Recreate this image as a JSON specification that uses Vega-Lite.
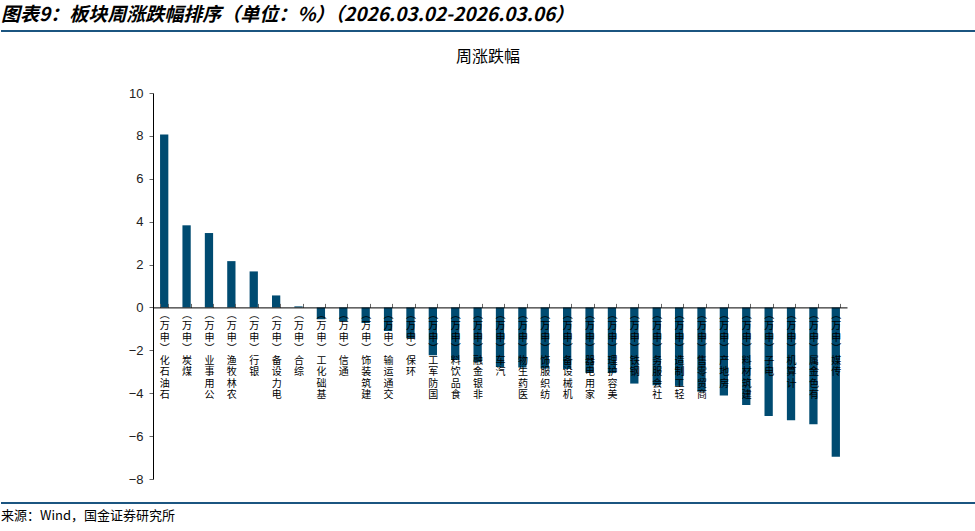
{
  "$schema": "https://vega.github.io/schema/vega-lite/v6.json",
  "padding": {"top": 6, "left": 0, "right": 0, "bottom": 0},
  "background": "white",
  "spacing": 16,
  "config": {"view": {"stroke": null}},
  "vconcat": [
    {
      "spacing": 17,
      "vconcat": [
        {
          "title": {"text": "图表9：板块周涨跌幅排序（单位：%）（2026.03.02-2026.03.06）", "anchor": "start", "frame": "group", "fontSize": 19, "fontWeight": "bold", "fontStyle": "italic", "font": "Noto Sans CJK SC", "color": "#000000", "offset": 5},
          "width": 975,
          "height": 2,
          "data": {"values": [{"k": 1}]},
          "mark": {"type": "rule", "color": "#1B5580", "strokeWidth": 2},
          "encoding": {"y": {"value": 1}}
        },
        {
          "spacing": 0,
          "hconcat": [
            {
              "width": 112,
              "height": 386,
              "data": {"values": []},
              "mark": "point"
            },
            {
              "title": {"text": "周涨跌幅", "fontSize": 16, "fontWeight": "normal", "font": "Noto Sans CJK SC", "color": "#000000", "anchor": "middle", "frame": "group", "dx": -12, "offset": 22},
              "width": 694,
              "height": 386,
              "data": {"values": [
                {"sector": "石油石化(申万)", "chg": 8.07},
                {"sector": "煤炭(申万)", "chg": 3.83},
                {"sector": "公用事业(申万)", "chg": 3.47},
                {"sector": "农林牧渔(申万)", "chg": 2.16},
                {"sector": "银行(申万)", "chg": 1.68},
                {"sector": "电力设备(申万)", "chg": 0.56},
                {"sector": "综合(申万)", "chg": 0.05},
                {"sector": "基础化工(申万)", "chg": -0.55},
                {"sector": "通信(申万)", "chg": -0.64},
                {"sector": "建筑装饰(申万)", "chg": -0.73},
                {"sector": "交通运输(申万)", "chg": -1.10},
                {"sector": "环保(申万)", "chg": -1.44},
                {"sector": "国防军工(申万)", "chg": -2.23},
                {"sector": "食品饮料(申万)", "chg": -2.45},
                {"sector": "非银金融(申万)", "chg": -2.55},
                {"sector": "汽车(申万)", "chg": -2.78},
                {"sector": "医药生物(申万)", "chg": -2.80},
                {"sector": "纺织服饰(申万)", "chg": -2.85},
                {"sector": "机械设备(申万)", "chg": -2.87},
                {"sector": "家用电器(申万)", "chg": -3.05},
                {"sector": "美容护理(申万)", "chg": -3.06},
                {"sector": "钢铁(申万)", "chg": -3.55},
                {"sector": "社会服务(申万)", "chg": -3.63},
                {"sector": "轻工制造(申万)", "chg": -3.66},
                {"sector": "商贸零售(申万)", "chg": -3.93},
                {"sector": "房地产(申万)", "chg": -4.11},
                {"sector": "建筑材料(申万)", "chg": -4.55},
                {"sector": "电子(申万)", "chg": -5.06},
                {"sector": "计算机(申万)", "chg": -5.26},
                {"sector": "有色金属(申万)", "chg": -5.45},
                {"sector": "传媒(申万)", "chg": -6.96}
              ]},
              "mark": {"type": "bar", "color": "#004B71"},
              "encoding": {
                "x": {
                  "field": "sector", "type": "nominal", "sort": null,
                  "scale": {"paddingInner": 0.63, "paddingOuter": 0.315},
                  "axis": {
                    "title": null, "offset": -171.6, "domainColor": "#000000", "domainWidth": 1,
                    "tickColor": "#666666", "tickSize": -4, "tickBand": "extent",
                    "labelAngle": 0, "labelAlign": "center", "labelBaseline": "top", "labelPadding": 6,
                    "labelFont": "Noto Sans CJK SC", "labelFontSize": 10, "labelLineHeight": 11.5,
                    "labelColor": "#000000", "labelOverlap": false, "labelBound": false,
                    "labelExpr": "reverse(split(replace(replace(datum.label, '(', '︶'), ')', '︵'), ''))",
                    "zindex": 1
                  }
                },
                "y": {
                  "field": "chg", "type": "quantitative",
                  "scale": {"domain": [-8, 10], "nice": false, "zero": false},
                  "axis": {
                    "title": null, "values": [-8, -6, -4, -2, 0, 2, 4, 6, 8, 10], "grid": false,
                    "domainColor": "#000000", "tickColor": "#666666", "tickSize": 4,
                    "labelFont": "Liberation Sans", "labelFontSize": 13, "labelColor": "#222222",
                    "labelPadding": 6, "minExtent": 40, "maxExtent": 40
                  }
                }
              }
            }
          ]
        }
      ]
    },
    {
      "title": {"text": "来源：Wind，国金证券研究所", "orient": "bottom", "anchor": "start", "frame": "group", "fontSize": 13, "fontWeight": "normal", "font": "Noto Sans CJK SC", "color": "#000000", "offset": 6},
      "width": 975,
      "height": 2,
      "data": {"values": [{"k": 1}]},
      "mark": {"type": "rule", "color": "#1B5580", "strokeWidth": 2},
      "encoding": {"y": {"value": 1}}
    }
  ]
}
